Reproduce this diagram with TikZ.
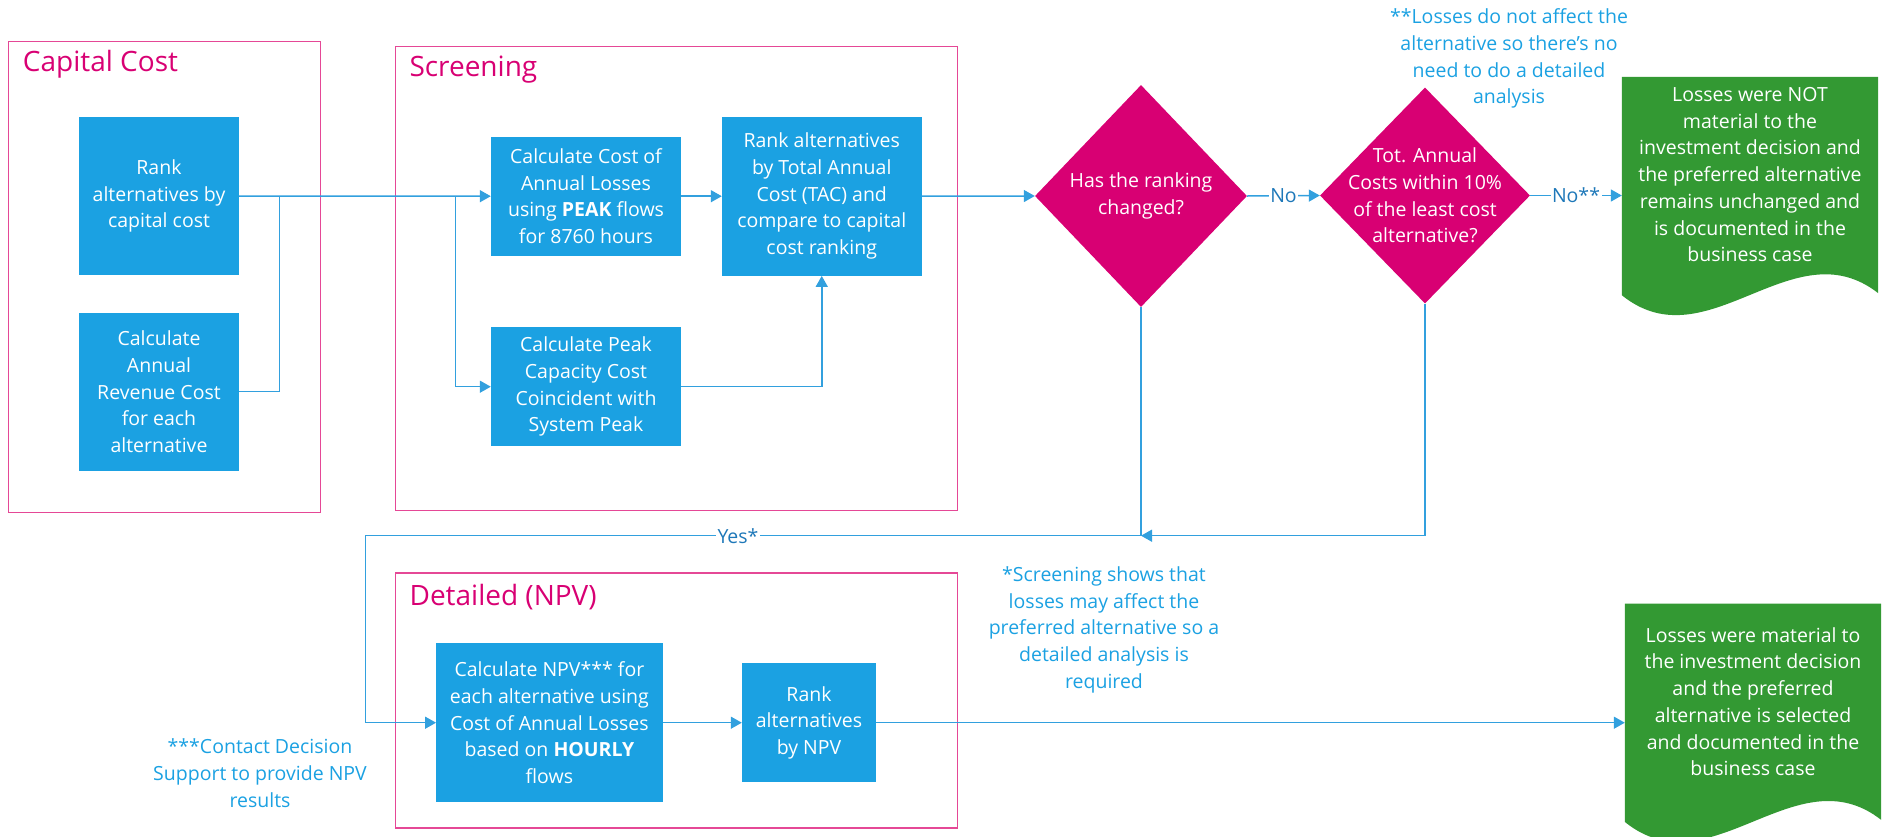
\documentclass[tikz,border=0pt]{standalone}
\usepackage{fontspec}
\setmainfont{Open Sans}
\usetikzlibrary{shapes.geometric,arrows.meta,backgrounds,calc}
\definecolor{boxblue}{RGB}{27,161,226}
\definecolor{dmag}{RGB}{216,0,115}
\definecolor{docgreen}{RGB}{51,153,51}
\definecolor{framepink}{RGB}{229,72,150}
\definecolor{linecol}{RGB}{50,160,222}
\definecolor{labcol}{RGB}{30,120,185}
\definecolor{notecol}{RGB}{27,161,226}
\newcommand{\bxf}{\fontsize{19.5}{26.7}\selectfont}
\newcommand{\frf}{\fontsize{28}{32}\selectfont}
\begin{document}
\begin{tikzpicture}[x=1pt,y=-1pt,
  bbox/.style={fill=boxblue, text=white, align=center, inner sep=0pt, font=\bxf},
  dmd/.style={diamond, fill=dmag, inner sep=0pt, aspect=1},
  dtext/.style={text=white, align=center, inner sep=0pt, font=\bxf},
  doctext/.style={text=white, align=center, inner sep=0pt, font=\bxf},
  docbox/.style={inner sep=0pt, minimum width=256pt, minimum height=218pt},
  frm/.style={draw=framepink, line width=1.4pt, inner sep=0pt, anchor=north west},
  flbl/.style={text=dmag, anchor=west, inner sep=0pt, font=\frf},
  note/.style={text=notecol, align=center, inner sep=0pt, font=\bxf},
  lin/.style={draw=linecol, line width=1.5pt},
  conn/.style={lin, -{Triangle[length=11pt,width=12pt]}},
  lbl/.style={fill=white, text=labcol, inner sep=1.5pt, font=\bxf}]
\useasboundingbox (0,0) rectangle (1883,836);

% frames
\node[frm, minimum width=312pt, minimum height=470.7pt] (fcap) at (8,41) {};
\node[flbl] at (22.7,64.3) {Capital Cost};
\node[frm, minimum width=562pt, minimum height=464pt] (fscr) at (395,45.7) {};
\node[flbl] at (409.3,69.3) {Screening};
\node[frm, minimum width=562pt, minimum height=255pt] (fdet) at (395,572.3) {};
\node[flbl] at (409.4,596.7) {Detailed (NPV)};

% boxes
\node[bbox, minimum width=159.3pt, minimum height=158.6pt] (capRank) at (159,196) {Rank\\alternatives by\\capital cost};
\node[bbox, minimum width=159.3pt, minimum height=158pt] (revCost) at (159,391.7) {Calculate\\Annual\\Revenue Cost\\for each\\alternative};
\node[bbox, minimum width=190pt, minimum height=119pt] (lossCost) at (586,196.2) {Calculate Cost of\\Annual Losses\\using \textbf{PEAK} flows\\for 8760 hours};
\node[bbox, minimum width=190pt, minimum height=118.7pt] (peakCap) at (586,386.7) {Calculate Peak\\Capacity Cost\\Coincident with\\System Peak};
\node[bbox, minimum width=199.5pt, minimum height=159pt] (tac) at (821.75,196.2) {Rank alternatives\\by Total Annual\\Cost (TAC) and\\compare to capital\\cost ranking};
\node[bbox, minimum width=226.3pt, minimum height=158.7pt] (npv) at (549.4,722.7) {Calculate NPV*** for\\each alternative using\\Cost of Annual Losses\\based on \textbf{HOURLY}\\flows};
\node[bbox, minimum width=134pt, minimum height=118.7pt] (npvRank) at (809,722.7) {Rank\\alternatives\\by NPV};

% diamonds
\node[dmd, minimum width=212pt, minimum height=222pt] (d1) at (1141,196) {};
\node[dtext] at (d1) {Has the ranking\\changed?};
\node[dmd, minimum width=210pt, minimum height=216pt] (d2) at (1425,195.5) {};
\node[dtext] at (d2) {Tot. Annual\\Costs within 10\%\\of the least cost\\alternative?};

% documents
\node[docbox] (doc1) at (1750,186) {};
\node[docbox] (doc2) at (1753,712.7) {};
\begin{scope}[on background layer]
\foreach \d in {doc1,doc2}{
  \fill[docgreen] (\d.north west) -- (\d.north east) -- ($(\d.south east)+(0,-2)$)
    .. controls ($(\d.south west)!0.667!(\d.south east)+(0,-69)$) and ($(\d.south west)!0.333!(\d.south east)+(0,69)$) .. (\d.south west) -- cycle;
}
\end{scope}
\node[doctext] at (1750,174.7) {Losses were NOT\\material to the\\investment decision and\\the preferred alternative\\remains unchanged and\\is documented in the\\business case};
\node[doctext] at (1753,701.7) {Losses were material to\\the investment decision\\and the preferred\\alternative is selected\\and documented in the\\business case};

% notes
\node[note] (n1) at (1509,58.7) {**Losses do not affect the\\alternative so there’s no\\need to do a detailed\\analysis};
\node[note] (n2) at (1104,629.7) {*Screening shows that\\losses may affect the\\preferred alternative so a\\detailed analysis is\\required};
\node[note] (n3) at (260,773) {***Contact Decision\\Support to provide NPV\\results};

% connectors
\coordinate (j1) at (279.6,196);
\coordinate (j2) at (455.4,196);
\draw[conn] (capRank.east) -- (lossCost.west);
\draw[lin] (revCost.east) -| (j1);
\draw[conn] (j2) |- (peakCap.west);
\draw[conn] (lossCost.east) -- (tac.west);
\draw[conn] (peakCap.east) -| (tac.south);
\draw[conn] (tac.east) -- (d1.west);
\draw[conn] (d1.east) -- node[lbl]{No} (d2.west);
\draw[conn] (d2.east) -- node[lbl]{No**} (d2.east -| doc1.west);
\coordinate (j3) at (1141,535.7);
\coordinate (j4) at (365.6,535.7);
\draw[lin] (d1.south) -- (j3);
\draw[conn] (d2.south) |- (j3);
\draw[conn] (j3) -- (j4) |- (npv.west);
\node[lbl] at (738,535.7) {Yes*};
\draw[conn] (npv.east) -- (npvRank.west);
\draw[conn] (npvRank.east) -- (npvRank.east -| doc2.west);
\end{tikzpicture}
\end{document}
